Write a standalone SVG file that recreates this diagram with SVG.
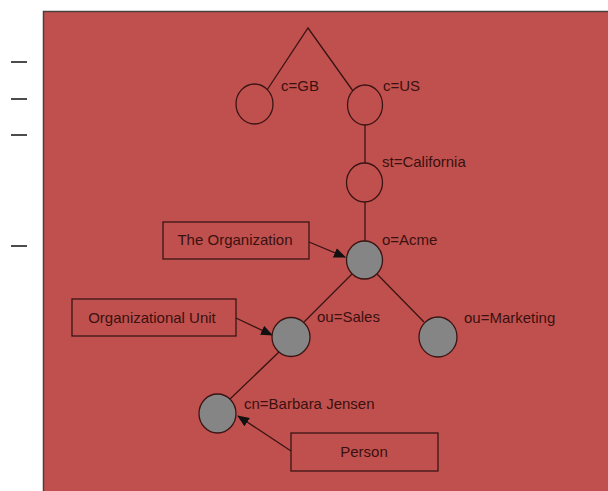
<svg xmlns="http://www.w3.org/2000/svg" width="608" height="491" viewBox="0 0 608 491">
<defs>
<style>
.bg{fill:#C0504D;stroke:#4a4040;stroke-width:1.5}
.ln{stroke:#3a1414;stroke-width:1.3;fill:none}
.e{fill:none;stroke:#3a1414;stroke-width:1.3}
.g{fill:#858585;stroke:#3a1414;stroke-width:1.3}
.box{fill:none;stroke:#3a1414;stroke-width:1.3}
.t{font-family:"Liberation Sans",Arial,sans-serif;font-size:15px;fill:#3a1010}
.c{text-anchor:middle}
.dash{stroke:#111;stroke-width:1.5}
</style>
<marker id="ah" markerWidth="12" markerHeight="10" refX="11" refY="5" orient="auto" markerUnits="userSpaceOnUse">
<path d="M0,0 L12,5 L0,10 Z" fill="#111"/>
</marker>
</defs>
<rect width="608" height="491" fill="#ffffff"/>
<g id="dashes">
<line class="dash" x1="11" y1="62" x2="27" y2="62"/>
<line class="dash" x1="11" y1="99" x2="27" y2="99"/>
<line class="dash" x1="11" y1="135" x2="27" y2="135"/>
<line class="dash" x1="11" y1="246" x2="27" y2="246"/>
</g>
<rect class="bg" x="43.5" y="11.5" width="570" height="490"/>
<g id="connectors">
<polyline class="ln" points="267,90 308,28 353,91"/>
<line class="ln" x1="365" y1="125" x2="365" y2="163"/>
<line class="ln" x1="365" y1="202" x2="365" y2="241"/>
<line class="ln" x1="352" y1="274" x2="304" y2="322"/>
<line class="ln" x1="377" y1="274" x2="424" y2="322"/>
<line class="ln" x1="279" y1="352" x2="230" y2="399"/>
<line class="ln" x1="309" y1="242" x2="345" y2="257" marker-end="url(#ah)"/>
<line class="ln" x1="236" y1="318" x2="272" y2="335" marker-end="url(#ah)"/>
<line class="ln" x1="291" y1="451" x2="238" y2="416" marker-end="url(#ah)"/>
</g>
<g id="c-GB">
<ellipse class="e" cx="254.5" cy="104" rx="18.5" ry="20"/>
<text class="t" x="281" y="91">c=GB</text>
</g>
<g id="c-US">
<ellipse class="e" cx="365" cy="105" rx="17.5" ry="20"/>
<text class="t" x="383" y="91">c=US</text>
</g>
<g id="st-California">
<ellipse class="e" cx="364.5" cy="182.5" rx="18" ry="19.5"/>
<text class="t" x="382" y="167">st=California</text>
</g>
<g id="o-Acme">
<ellipse class="g" cx="364.5" cy="260" rx="18" ry="19"/>
<text class="t" x="382" y="245">o=Acme</text>
</g>
<g id="ou-Sales">
<ellipse class="g" cx="291" cy="337" rx="19" ry="19.5"/>
<text class="t" x="317" y="322">ou=Sales</text>
</g>
<g id="ou-Marketing">
<ellipse class="g" cx="438" cy="337" rx="19" ry="20"/>
<text class="t" x="464" y="323">ou=Marketing</text>
</g>
<g id="cn-Barbara-Jensen">
<ellipse class="g" cx="217.5" cy="413.5" rx="18.5" ry="19.5"/>
<text class="t" x="244" y="409">cn=Barbara Jensen</text>
</g>
<g id="the-organization">
<rect class="box" x="163" y="222" width="146" height="37"/>
<text class="t c" x="235" y="245">The Organization</text>
</g>
<g id="organizational-unit">
<rect class="box" x="72" y="299" width="164" height="37"/>
<text class="t c" x="152" y="323">Organizational Unit</text>
</g>
<g id="person">
<rect class="box" x="291" y="433" width="147" height="38"/>
<text class="t c" x="364" y="457">Person</text>
</g>
</svg>
